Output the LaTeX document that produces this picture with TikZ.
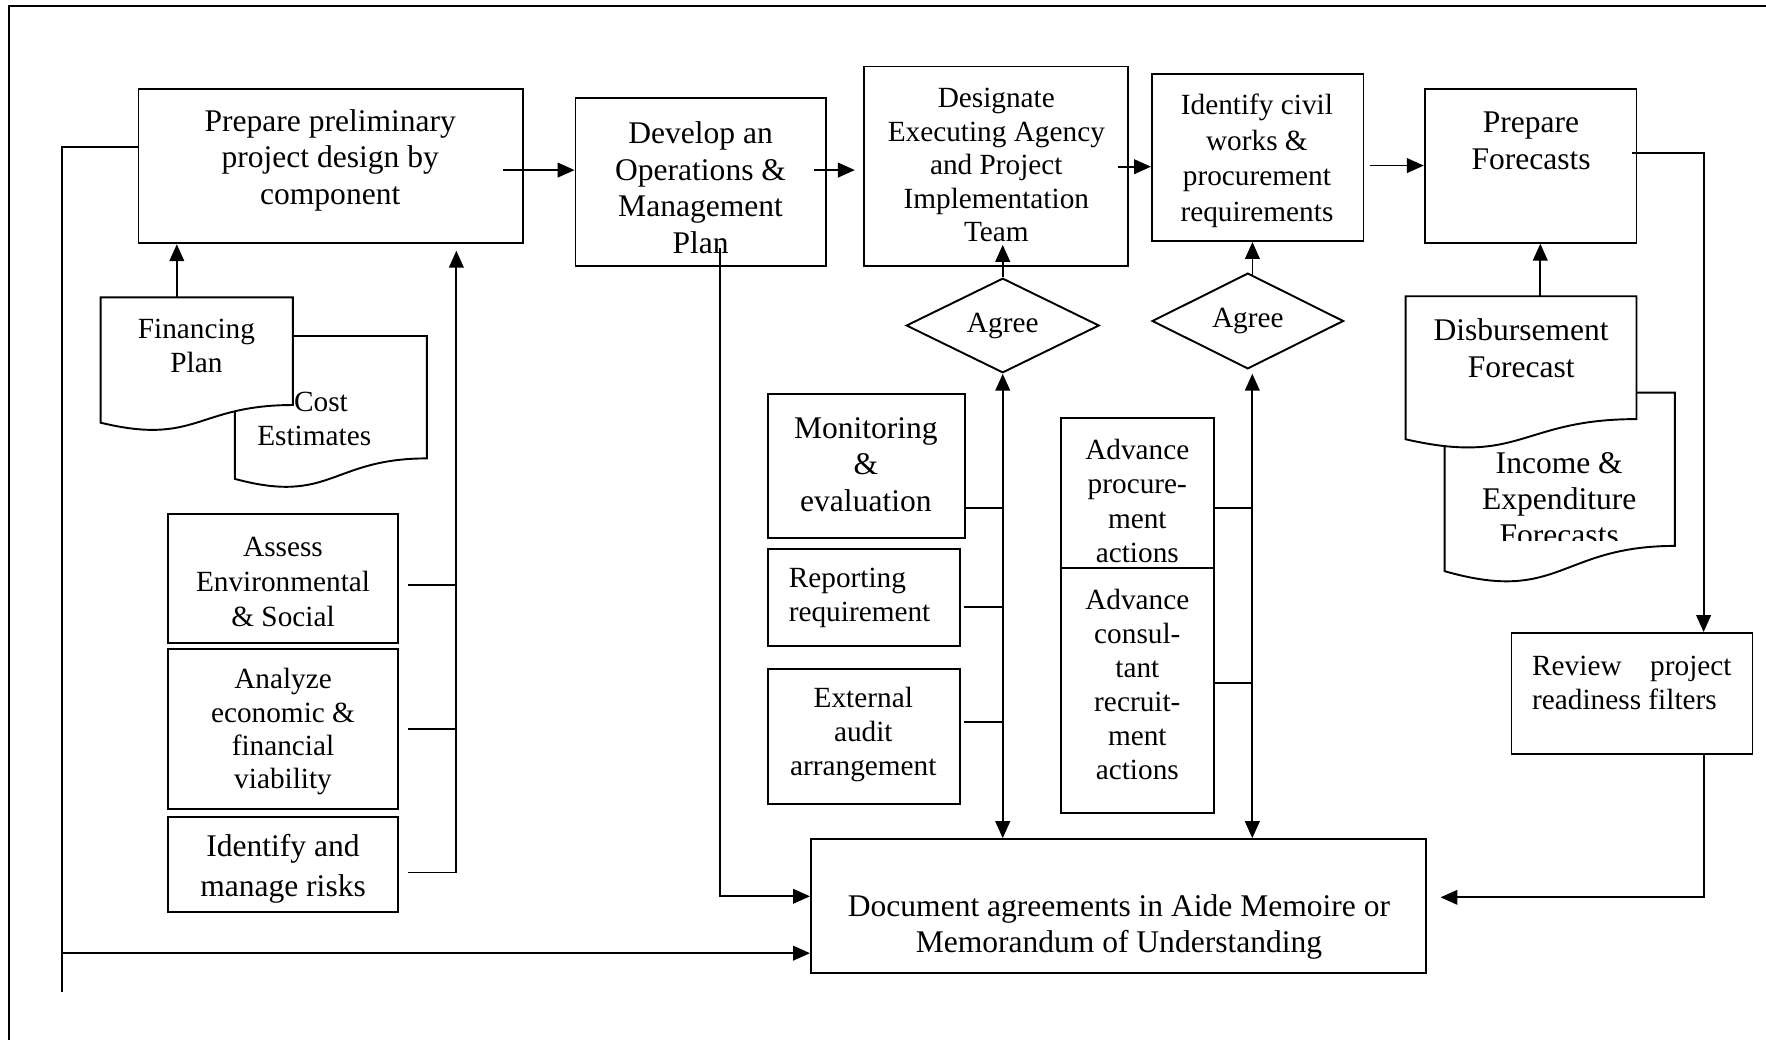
\documentclass[tikz,border=0pt]{standalone}
\usepackage{fontspec}
\setmainfont{Liberation Serif}
\usetikzlibrary{arrows.meta,shapes.geometric,fit}
\begin{document}
\begin{tikzpicture}[x=0.5pt,y=-0.5pt,
  box/.style={draw, line width=0.85pt, inner sep=0pt, fill=white},
  docshape/.style={draw, line width=0.85pt, fill=white},
  tL/.style={align=center, inner sep=0pt, yshift=-1.2pt, font=\fontsize{14}{16.25}\selectfont},
  tS/.style={align=center, inner sep=0pt, yshift=-1.2pt, font=\fontsize{13}{15}\selectfont},
  ln/.style={line width=0.8pt},
  arr/.style={line width=0.8pt, -{Triangle[length=7.5pt,width=6.5pt]}},
  darr/.style={line width=0.8pt, {Triangle[length=7.5pt,width=6.5pt]}-{Triangle[length=7.5pt,width=6.5pt]}},
  agree/.style={draw, diamond, aspect=2, line width=0.85pt, inner sep=0pt, fill=white, font=\fontsize{13}{15}\selectfont}]
\useasboundingbox (0,0) rectangle (1568,923);
\draw[line width=0.9pt] (8,923) -- (8,5.3) -- (1568,5.3);

% top row
\node[box, fit={(123,79)(464.5,216)}] (b1) {};
\node[tL] (b1t) at (293.2,140) {Prepare preliminary\\project design by\\component};
\node[box, fit={(511,87)(733,236)}] (b2) {};
\node[tL] (b2t) at (622,164.3) {Develop an\\Operations \&\\Management\\Plan};
\node[box, fit={(767,59)(1001.5,236)}] (b3) {};
\node[tS, font=\fontsize{13}{14.9}\selectfont] (b3t) at (884.6,144.3) {Designate\\Executing Agency\\and Project\\Implementation\\Team};
\node[box, fit={(1022.8,65.4)(1210.6,214)}] (b4) {};
\node[tS, font=\fontsize{13}{15.8}\selectfont] (b4t) at (1116,140.5) {Identify civil\\works \&\\procurement\\requirements};
\node[box, fit={(1265,79)(1453,215.5)}] (b5) {};
\node[tL] (b5t) at (1359.4,122.4) {Prepare\\Forecasts};

% forecasts documents
\path[docshape] (1282.6,348.6) -- (1487,348.6) -- (1487,484.7) .. controls (1384.8,484.7) and (1384.8,536.5) .. (1282.6,507.1) -- cycle;
\begin{scope}
\clip (1282.6,348.6) rectangle (1487,480);
\node[tL, font=\fontsize{14}{16}\selectfont] (inc) at (1384.4,440.4) {Income \&\\Expenditure\\Forecasts};
\end{scope}
\path[docshape] (1248,263) -- (1453,263) -- (1453,372.1) .. controls (1350.5,372.1) and (1350.5,413.6) .. (1248,390) -- cycle;
\node[tL, font=\fontsize{14}{16.5}\selectfont] (dis) at (1350.6,306.7) {Disbursement\\Forecast};

% cost / financing documents
\path[docshape] (208.6,298.3) -- (379,298.3) -- (379,407) .. controls (293.8,407) and (293.8,448.3) .. (208.6,425.2) -- cycle;
\path[docshape] (89.4,264) -- (260,264) -- (260,359.6) .. controls (174.7,359.6) and (174.7,396) .. (89.4,375.3) -- cycle;
\node[tS] (cost) at (279,369.8) {\hspace*{6pt}Cost\\Estimates};
\node[tS, font=\fontsize{13}{14.8}\selectfont] (fin) at (174.4,304.8) {Financing\\Plan};

% left boxes
\node[box, fit={(149,456)(353.7,570.7)}] (ass) {};
\node[tS, font=\fontsize{13}{15.5}\selectfont] (asst) at (251.3,514.2) {Assess\\Environmental\\\& Social};
\node[box, fit={(149,576.4)(353.7,718.3)}] (ana) {};
\node[tS, font=\fontsize{13}{14.8}\selectfont] (anat) at (251.3,647.3) {Analyze\\economic \&\\financial\\viability};
\node[box, fit={(149,725)(353.7,810)}] (risk) {};
\node[tL, font=\fontsize{14}{17.4}\selectfont] (riskt) at (251.3,769) {Identify and\\manage risks};

% middle boxes
\node[box, fit={(681.6,349.8)(856.8,477.4)}] (mon) {};
\node[tL, font=\fontsize{14}{16.3}\selectfont] (mont) at (768.8,410) {Monitoring\\\&\\evaluation};
\node[box, fit={(681.6,487.4)(852.3,573.3)}] (rep) {};
\node[tS, align=left, anchor=west] (rept) at (700,528.3) {Reporting\\requirement};
\node[box, fit={(681.6,594.3)(852.3,713.8)}] (ext) {};
\node[tS, font=\fontsize{13}{15.05}\selectfont] (extt) at (766.5,649.6) {External\\audit\\arrangement};
\node[box, fit={(941.7,370.8)(1078.2,504.6)}] (advp) {};
\node[tS, font=\fontsize{13}{15.3}\selectfont] (advpt) at (1009.8,442.5) {Advance\\procure-\\ment\\actions};
\node[box, fit={(941.7,504.6)(1078.2,722)}] (advc) {};
\node[tS, font=\fontsize{13}{15.1}\selectfont] (advct) at (1009.8,605.3) {Advance\\consul-\\tant\\recruit-\\ment\\actions};

% bottom / right boxes
\node[box, fit={(720,745)(1266,864)}] (doc) {};
\node[tL, font=\fontsize{14}{16}\selectfont] (doct) at (993.5,821) {Document agreements in Aide Memoire or\\Memorandum of Understanding};
\node[box, fit={(1342,562)(1556,669.5)}] (rev) {};
\node[tS, align=left, anchor=west] (revt) at (1360,603.8) {\hbox to 88.5pt{Review\hfill project}\\readiness filters};

% diamonds
\node[agree, minimum width=85.65pt, minimum height=42pt] (dia1) at (890.3,289) {Agree};
\node[agree, minimum width=85pt, minimum height=42.5pt] (dia2) at (1107.9,285) {Agree};

% main flow
\coordinate (c12) at (447,151);
\draw[arr] (c12) -- (c12 -| b2.west);
\coordinate (c23) at (723,151); \coordinate (c23e) at (759,151);
\draw[arr] (c23) -- (c23e);
\coordinate (c34) at (993,148);
\draw[arr] (c34) -- (c34 -| b4.west);
\coordinate (c45) at (1216,147);
\draw[arr] (c45) -- (c45 -| b5.west);
\coordinate (c5r) at (1449,136); \coordinate (c5rc) at (1512.6,136);
\draw[arr] (c5r) -- (c5rc) -- (c5rc |- rev.north);
\coordinate (crd) at (1279,796.7);
\draw[arr] (c5rc |- rev.south) |- (crd);

% left feedback
\coordinate (cfb) at (55.3,130.8); \coordinate (cfbe) at (55.3,880.8); \coordinate (cfba) at (55.3,846.3);
\draw[ln] (cfb -| b1.west) -- (cfb) -- (cfbe);
\draw[arr] (cfba) -- (cfba -| doc.west);

% plan line
\coordinate (cpl) at (639.6,220); \coordinate (cplc) at (639.6,795.8);
\draw[arr] (cpl) -- (cplc) -- (cplc -| doc.west);

% documents to boxes
\coordinate (cfin) at (157,264);
\draw[arr] (cfin) -- (cfin |- b1.south);
\coordinate (cdis) at (1367.6,263);
\draw[arr] (cdis) -- (cdis |- b5.south);

% left collector
\coordinate (cv) at (405.2,774.6); \coordinate (cvt) at (405.2,222.6);
\coordinate (cas) at (361.9,519.5); \draw[ln] (cas) -- (cas -| cv);
\coordinate (can) at (361.9,647.2); \draw[ln] (can) -- (can -| cv);
\coordinate (cri) at (361.9,774.6); \draw[arr] (cri) -- (cv) -- (cvt);

% agree 1
\coordinate (cd1t) at (890.3,217.4);
\draw[arr] (dia1.north) -- (cd1t);
\draw[darr] (dia1.south) -- (dia1.south |- doc.north);
\coordinate (cmo) at (856.8,451.3); \draw[ln] (cmo) -- (cmo -| dia1.south);
\coordinate (crp) at (855.9,538.6); \draw[ln] (crp) -- (crp -| dia1.south);
\coordinate (cex) at (855.9,640.7); \draw[ln] (cex) -- (cex -| dia1.south);

% agree 2
\coordinate (cd2b) at (1112,244.6);
\draw[arr] (cd2b) -- (cd2b |- b4.south);
\coordinate (cd2v) at (1111.9,331.8);
\draw[darr] (cd2v) -- (cd2v |- doc.north);
\coordinate (cap) at (1078.2,451.3); \draw[ln] (cap) -- (cap -| cd2v);
\coordinate (cac) at (1078.2,606.7); \draw[ln] (cac) -- (cac -| cd2v);
\end{tikzpicture}
\end{document}
